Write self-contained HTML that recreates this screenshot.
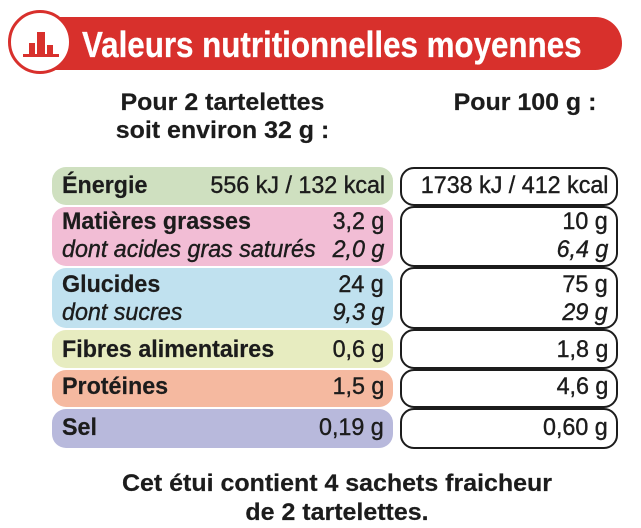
<!DOCTYPE html><html><head><meta charset="utf-8"><style>
body{margin:0;width:641px;height:528px;background:#fff;position:relative;overflow:hidden;font-family:"Liberation Sans",sans-serif;color:#1c1c1c}
.b{position:absolute;border-radius:14px}
.r{position:absolute;border:2.5px solid #1c1c1c;border-radius:14px;background:#fff;box-sizing:border-box}
.t{position:absolute;font-size:24px;line-height:28px;white-space:nowrap;transform:scaleX(.97);-webkit-text-stroke:0.4px #1c1c1c}
.L{transform-origin:left center}
.R{transform-origin:right center;text-align:right}
.C{transform-origin:center center;text-align:center}
.bd{font-weight:bold;-webkit-text-stroke:0.2px #1c1c1c}.i{font-style:italic}
.h{transform:scaleX(1.04)}
</style></head><body>
<div style="position:absolute;left:55px;top:17px;width:567px;height:53px;background:#d8302c;border-radius:0 27px 27px 0"></div>
<div style="position:absolute;left:8px;top:10px;width:64px;height:64px;border-radius:50%;background:#fff;border:3px solid #d8302c;box-sizing:border-box"></div>
<svg style="position:absolute;left:8px;top:10px" width="64" height="64"><g fill="#d8302c"><rect x="21" y="33" width="6" height="12"/><rect x="29" y="22" width="8" height="23"/><rect x="39" y="35" width="6" height="10"/><rect x="15" y="44" width="36" height="3"/></g></svg>
<div class="t bd L" style="left:82px;top:26px;font-size:36px;line-height:38px;color:#fff;-webkit-text-stroke:0.3px #fff;transform:scaleX(.87)">Valeurs nutritionnelles moyennes</div>
<div class="t bd C h" style="left:80px;width:285px;top:89px">Pour 2 tartelettes</div>
<div class="t bd C h" style="left:80px;width:285px;top:117px">soit environ 32 g :</div>
<div class="t bd C h" style="left:420px;width:210px;top:89px">Pour 100 g :</div>

<div class="b" style="left:52px;top:167px;width:341px;height:38px;background:#cfe0c0"></div>
<div class="b" style="left:52px;top:207px;width:341px;height:59px;background:#f2bdd5"></div>
<div class="b" style="left:52px;top:268px;width:341px;height:60px;background:#c0e1ef"></div>
<div class="b" style="left:52px;top:330px;width:341px;height:38px;background:#e7ecc0"></div>
<div class="b" style="left:52px;top:370px;width:341px;height:37px;background:#f5b9a0"></div>
<div class="b" style="left:52px;top:409px;width:341px;height:39px;background:#b8b9dc"></div>

<div class="r" style="left:400px;top:167px;width:218px;height:39px"></div>
<div class="r" style="left:400px;top:206px;width:218px;height:61px"></div>
<div class="r" style="left:400px;top:267px;width:218px;height:62px"></div>
<div class="r" style="left:400px;top:329px;width:218px;height:40px"></div>
<div class="r" style="left:400px;top:369px;width:218px;height:39px"></div>
<div class="r" style="left:400px;top:408px;width:218px;height:41px"></div>

<div class="t bd L" style="left:62px;top:172px">Énergie</div>
<div class="t R" style="right:256px;top:172px">556 kJ / 132 kcal</div>
<div class="t bd L" style="left:62px;top:208px">Matières grasses</div>
<div class="t R" style="right:257px;top:208px">3,2 g</div>
<div class="t i L" style="left:62px;top:236px">dont acides gras saturés</div>
<div class="t i R" style="right:257px;top:236px">2,0 g</div>
<div class="t bd L" style="left:62px;top:271px">Glucides</div>
<div class="t R" style="right:257px;top:271px">24 g</div>
<div class="t i L" style="left:62px;top:299px">dont sucres</div>
<div class="t i R" style="right:257px;top:299px">9,3 g</div>
<div class="t bd L" style="left:62px;top:336px">Fibres alimentaires</div>
<div class="t R" style="right:257px;top:336px">0,6 g</div>
<div class="t bd L" style="left:62px;top:373px">Protéines</div>
<div class="t R" style="right:257px;top:373px">1,5 g</div>
<div class="t bd L" style="left:62px;top:414px">Sel</div>
<div class="t R" style="right:257px;top:414px">0,19 g</div>

<div class="t R" style="right:33px;top:172px">1738 kJ / 412 kcal</div>
<div class="t R" style="right:33px;top:208px">10 g</div>
<div class="t i R" style="right:33px;top:236px">6,4 g</div>
<div class="t R" style="right:33px;top:271px">75 g</div>
<div class="t i R" style="right:33px;top:299px">29 g</div>
<div class="t R" style="right:33px;top:336px">1,8 g</div>
<div class="t R" style="right:33px;top:373px">4,6 g</div>
<div class="t R" style="right:33px;top:414px">0,60 g</div>

<div class="t bd C h" style="left:87px;width:500px;top:470px">Cet étui contient 4 sachets fraicheur</div>
<div class="t bd C h" style="left:87px;width:500px;top:499px">de 2 tartelettes.</div>
</body></html>
